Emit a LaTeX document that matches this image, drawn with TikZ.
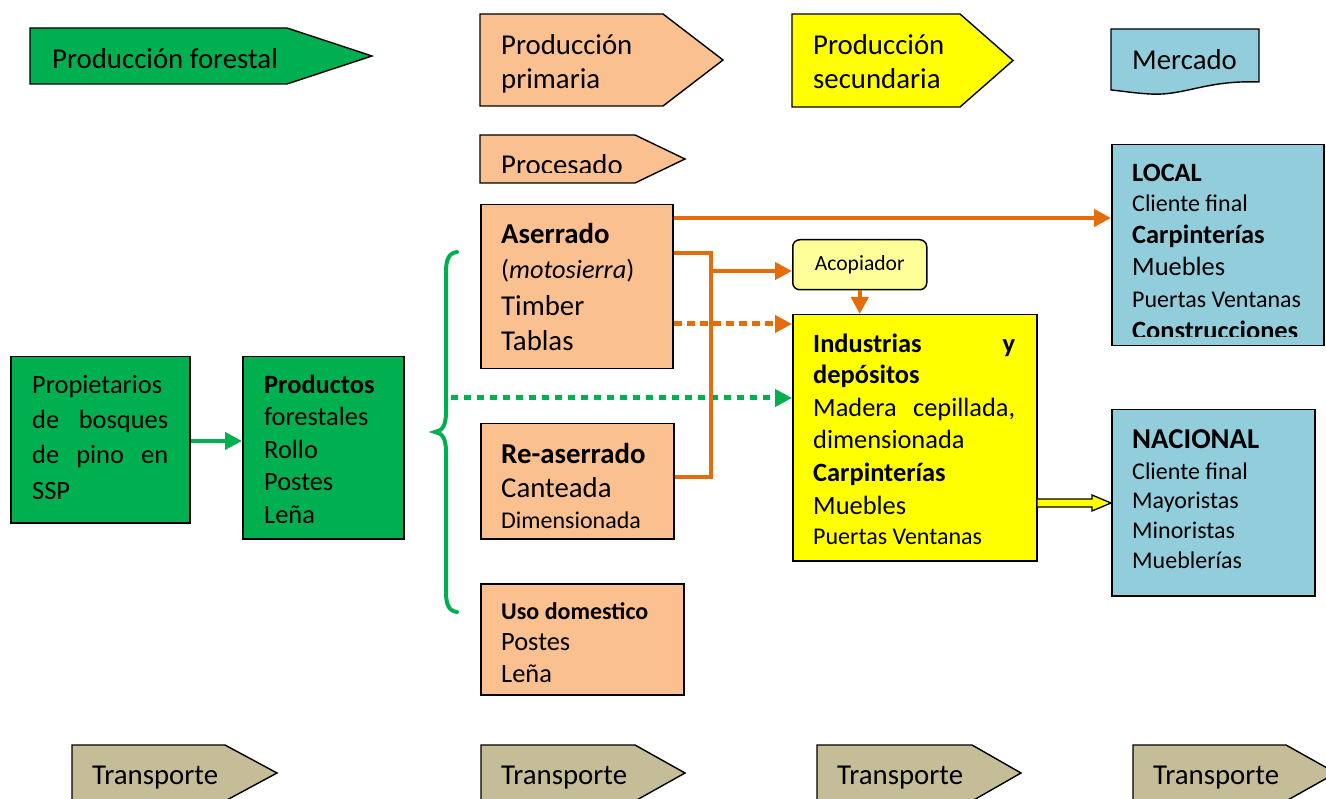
\documentclass[tikz,border=0pt]{standalone}
\usepackage{fontspec}
\setmainfont{Carlito}
\usetikzlibrary{arrows.meta,calc}

\definecolor{forest}{HTML}{00B050}
\definecolor{peach}{HTML}{FAC090}
\definecolor{sunny}{HTML}{FFFF00}
\definecolor{paleyel}{HTML}{FFFF99}
\definecolor{aqua}{HTML}{92CDDC}
\definecolor{khaki}{HTML}{C4BD97}
\definecolor{rust}{HTML}{E46C0A}

% one line of a text block: size, distance from previous baseline, content
\newcommand\Lrow[3]{{\fontsize{#1}{#2}\selectfont#3\par}}
% a block of lines whose first baseline is the block's baseline
\newcommand\Blk[2]{\begin{minipage}[t]{#1}\lineskiplimit=-\maxdimen\lineskip=0pt\parindent=0pt #2\end{minipage}}
% pentagon tag: x left, x shoulder, x tip, y top, y bottom, fill
\newcommand\Pent[6]{\draw[tagline,fill=#6] (#1,#4) -- (#2,#4) -- ($(#3,#4)!.5!(#3,#5)$) -- (#2,#5) -- (#1,#5) -- cycle;}

\tikzset{
  tagline/.style={draw=black, line width=1.4pt, line join=miter},
  box/.style={draw=black, line width=1.5pt, anchor=north west, inner sep=0pt},
  txt/.style={anchor=base west, inner sep=0pt, yshift=-2pt},
  big/.style={font=\fontsize{28.8}{34}\selectfont},
  tri/.tip={Triangle[length=17pt,width=17pt]},
  oline/.style={draw=rust, line width=4.5pt, line join=miter},
  odot/.style={draw=rust, line width=5pt, dash pattern=on 8pt off 5pt},
  gline/.style={draw=forest, line width=4pt},
  gdot/.style={draw=forest, line width=5pt, dash pattern=on 7pt off 6pt},
}

\begin{document}
\begin{tikzpicture}[x=1pt,y=-1pt]
\useasboundingbox (0,0) rectangle (1326,799);
\clip (0,0) rectangle (1326,799);

% ---- stage headers ----
\Pent{30}{287}{372}{28}{84}{forest}
\node[txt,big] (h-forestal) at (52,67) {Producción forestal};

\Pent{480}{663}{723}{14}{106}{peach}
\node[txt] (h-primaria) at (501,53) {\Blk{200pt}{\Lrow{28.8}{34}{Producción}\Lrow{28.8}{34}{primaria}}};

\Pent{792}{960}{1013}{14}{107}{sunny}
\node[txt] (h-secundaria) at (813,53) {\Blk{200pt}{\Lrow{28.8}{34}{Producción}\Lrow{28.8}{34}{secundaria}}};

\draw[tagline,fill=aqua] (1111,29) -- (1259,29) -- (1259,82)
  .. controls (1205,80) and (1185,96) .. (1150,94)
  .. controls (1133,93) and (1122,91) .. (1111,90) -- cycle;
\node[txt,big] (h-mercado) at (1132,68) {Mercado};

\Pent{480}{635}{685}{135}{183}{peach}
\begin{scope}
  \clip (470,130) rectangle (700,173);
  \node[txt,big] (h-procesado) at (501,173) {Procesado};
\end{scope}

% ---- forest side ----
\node[box,fill=forest,minimum width=179pt,minimum height=166pt] (prop) at (10,356) {};
\node[txt] (prop-t) at (32,392) {\Blk{136pt}{%
  \Lrow{26.4}{35}{Propietarios}
  \Lrow{26.4}{35}{de\hfill bosques}
  \Lrow{26.4}{35}{de\hfill pino\hfill en}
  \Lrow{26.4}{36}{SSP}}};

\node[box,fill=forest,minimum width=161pt,minimum height=182pt] (prod) at (242,356) {};
\node[txt] (prod-t) at (264,392) {\Blk{130pt}{%
  \Lrow{26.4}{32}{\bfseries Productos}
  \Lrow{26.4}{32}{forestales}
  \Lrow{26.4}{33}{Rollo}
  \Lrow{26.4}{32}{Postes}
  \Lrow{26.4}{33}{Leña}}};

% ---- primary processing ----
\node[box,fill=peach,minimum width=192pt,minimum height=164pt] (aser) at (480,204) {};
\node[txt] (aser-t) at (501,242) {\Blk{165pt}{%
  \Lrow{28.8}{35}{\bfseries Aserrado}
  \Lrow{26.4}{35}{(\textit{motosierra})}
  \Lrow{28.8}{37}{Timber}
  \Lrow{28.8}{35}{Tablas}}};

\node[box,fill=peach,minimum width=193pt,minimum height=115pt] (reas) at (480,423) {};
\node[txt] (reas-t) at (501,462) {\Blk{165pt}{%
  \Lrow{28.8}{34}{\bfseries Re-aserrado}
  \Lrow{28.8}{34}{Canteada}
  \Lrow{24}{31}{Dimensionada}}};

\node[box,fill=peach,minimum width=203pt,minimum height=111pt] (uso) at (480,583) {};
\node[txt] (uso-t) at (501,617) {\Blk{175pt}{%
  \Lrow{24}{31}{\bfseries Uso domestico}
  \Lrow{26.4}{31}{Postes}
  \Lrow{26.4}{32}{Leña}}};

% ---- secondary processing ----
\node[box,fill=paleyel,rounded corners=7pt,minimum width=134pt,minimum height=50pt,
      font=\fontsize{21.6}{26}\selectfont] (acop) at (792,239) {Acopiador};

\node[box,fill=sunny,minimum width=244pt,minimum height=246pt] (ind) at (792,314) {};
\node[txt] (ind-t) at (813,351) {\Blk{202pt}{%
  \Lrow{26.4}{32}{\bfseries Industrias\hfill y}
  \Lrow{26.4}{31}{\bfseries depósitos}
  \Lrow{26.4}{33}{Madera\hfill cepillada,}
  \Lrow{26.4}{32}{dimensionada}
  \Lrow{26.4}{33}{\bfseries Carpinterías}
  \Lrow{26.4}{33}{Muebles}
  \Lrow{24}{30}{Puertas Ventanas}}};

% ---- markets ----
\node[box,fill=aqua,minimum width=212pt,minimum height=201pt] (local) at (1111,144) {};
\begin{scope}
  \clip (1113,146) rectangle (1321,337);
  \node[txt] (local-t) at (1132,180) {\Blk{185pt}{%
    \Lrow{26.4}{30}{\bfseries LOCAL}
    \Lrow{24}{30}{Cliente final}
    \Lrow{26.4}{32}{\bfseries Carpinterías}
    \Lrow{26.4}{32}{Muebles}
    \Lrow{24}{32}{Puertas Ventanas}
    \Lrow{26.4}{32}{\bfseries Construcciones}}};
\end{scope}

\node[box,fill=aqua,minimum width=203pt,minimum height=186pt] (nac) at (1111,409) {};
\node[txt] (nac-t) at (1132,447) {\Blk{175pt}{%
  \Lrow{28.8}{31}{\bfseries NACIONAL}
  \Lrow{24}{31}{Cliente final}
  \Lrow{24}{29}{Mayoristas}
  \Lrow{24}{30}{Minoristas}
  \Lrow{24}{30}{Mueblerías}}};

% ---- transport tags ----
\Pent{72}{225}{277}{745}{801}{khaki}
\node[txt,big] (tr1) at (92,782) {Transporte};
\Pent{481}{635}{685}{745}{801}{khaki}
\node[txt,big] (tr2) at (501,782) {Transporte};
\Pent{817}{972}{1021}{745}{801}{khaki}
\node[txt,big] (tr3) at (837,782) {Transporte};
\Pent{1133}{1286}{1336}{745}{801}{khaki}
\node[txt,big] (tr4) at (1153,782) {Transporte};

% ---- connectors ----
\draw[gline,-tri] (prop.east |- 0,441) -- (prod.west |- 0,441);

% brace grouping the products
\draw[forest,line width=4pt,line cap=round]
  (457,252) .. controls (449,253) and (446,259) .. (446,272) -- (446,412)
  .. controls (446,426) and (442,431) .. (435,432)
  .. controls (442,433) and (446,438) .. (446,452) -- (446,592)
  .. controls (446,605) and (449,611) .. (457,612);
\coordinate (brace) at (451,398);
\draw[gdot,-tri] (brace) -- (brace -| ind.west);

\draw[oline,-tri] (aser.east |- 0,218) -- (local.west |- 0,218);
\coordinate (j1) at (711,253);
\coordinate (j2) at (711,477);
\coordinate (j3) at (711,271);
\draw[oline] (aser.east |- j1) -- (j1) -- (j2) -- (reas.east |- j2);
\draw[oline,-tri] (j3) -- (j3 -| acop.west);
\draw[odot,-tri] (aser.east |- 0,324) -- (ind.west |- 0,324);
\draw[oline,-tri] (acop.south) -- (acop.south |- ind.north);

% block arrow from industries to the national market
\draw[tagline,fill=sunny,line width=1.3pt]
  (ind.east |- 0,499) -- (1092,499) -- (1092,495) -- (nac.west |- 0,503)
  -- (1092,511) -- (1092,507) -- (ind.east |- 0,507);
\end{tikzpicture}
\end{document}
